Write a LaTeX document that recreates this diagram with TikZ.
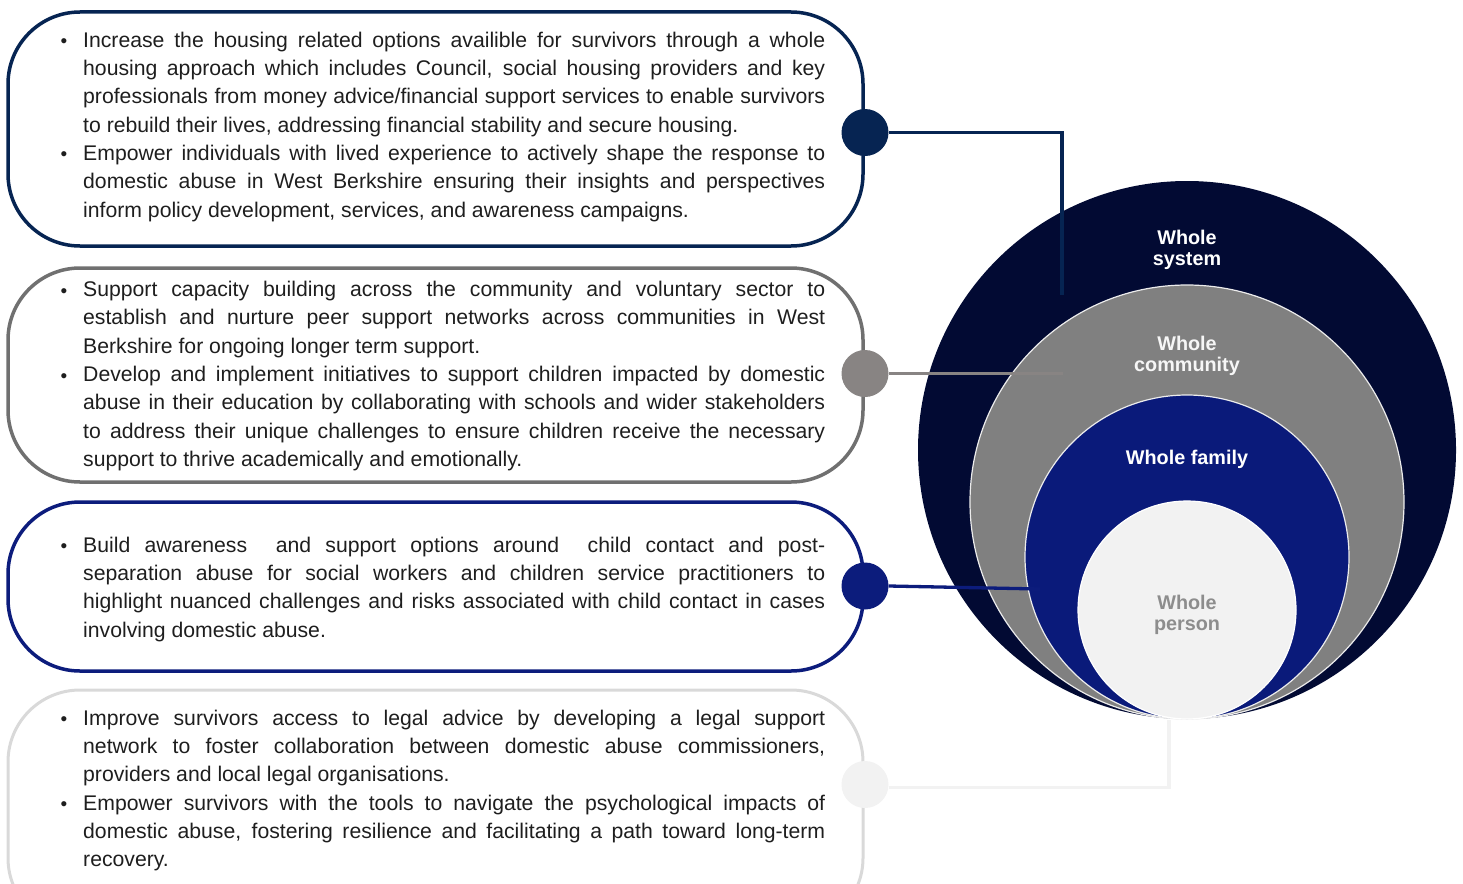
\documentclass[tikz,border=0pt]{standalone}
\usepackage{fontspec}
\setmainfont{Liberation Sans}
\definecolor{navyA}{HTML}{062452}
\definecolor{grayB}{HTML}{707070}
\definecolor{grayDot}{HTML}{888483}
\definecolor{blueC}{HTML}{0C1C7C}
\definecolor{lightD}{HTML}{D9D9D9}
\definecolor{lightDot}{HTML}{F2F2F2}
\definecolor{sysc}{HTML}{020A33}
\definecolor{comc}{HTML}{808080}
\definecolor{famc}{HTML}{0A1A7A}
\definecolor{perc}{HTML}{F2F2F2}
\definecolor{txt}{HTML}{1E1E1E}
\newcommand{\bodyset}{\fontsize{21.2}{28.33}\selectfont\tolerance=10000\relax\hyphenpenalty=10000\relax\exhyphenpenalty=10000\relax}
\newcommand{\bitem}[1]{\hangindent=23pt\relax\hangafter=1\relax\noindent\makebox[23pt][l]{\hspace{0.5pt}\raisebox{-0.5pt}{\fontsize{19}{19}\selectfont •}}\strut#1\par}
\tikzset{
  box/.style={rectangle, rounded corners=72pt, line width=3.5pt, fill=none, inner sep=0pt},
  dot/.style={circle, minimum size=47pt, inner sep=0pt},
  conn/.style={line width=3.3pt},
  txtbox/.style={anchor=north west, inner sep=0pt, text width=765pt, align=justify, text=txt, font=\bodyset},
  ring/.style={circle, inner sep=0pt},
  lab/.style={font=\fontsize{19.8}{21}\selectfont\bfseries, align=center, inner sep=0pt}
}
\begin{document}
\begin{tikzpicture}[x=1pt,y=-1pt]
\useasboundingbox (0,0) rectangle (1463,883);
\clip (0,0) rectangle (1463,883);
% concentric circles
\node[ring, fill=sysc, minimum size=538pt] (sys) at (1187,450) {};
\node[ring, fill=comc, draw=white!85!gray, line width=1.2pt, minimum size=434pt] (com) at (1187,502) {};
\node[ring, fill=famc, draw=white!85!gray, line width=1.2pt, minimum size=324pt] (fam) at (1187,557) {};
\node[ring, fill=perc, draw=white, line width=1.2pt, minimum size=218pt] (per) at (1187,610) {};
\node[lab, text=white] (lsys) at (1187,250) {Whole\\system};
\node[lab, text=white!93!gray] (lcom) at (1187,356) {Whole\\community};
\node[lab, text=white] (lfam) at (1187,459) {Whole family};
\node[lab, text=comc!90!white] (lper) at (1187,615) {Whole\\person};
% boxes
\node[box, draw=navyA, minimum width=855pt, minimum height=234pt] (b1) at (435.5,129) {};
\node[box, draw=grayB, minimum width=855pt, minimum height=214pt] (b2) at (435.5,375) {};
\node[box, draw=blueC, minimum width=855pt, minimum height=169pt] (b3) at (435.5,586.5) {};
\node[box, draw=lightD, line width=3pt, minimum width=855pt, minimum height=240pt] (b4) at (435.5,810) {};
% texts
\node[txtbox] (t1) at (60,27) {%
\bitem{Increase the housing related options availible for survivors through a whole\linebreak housing approach which includes Council, social housing providers and key\linebreak professionals from money advice/financial support services to enable survivors\linebreak to rebuild their lives, addressing financial stability and secure housing.}%
\bitem{Empower individuals with lived experience to actively shape the response to\linebreak domestic abuse in West Berkshire ensuring their insights and perspectives\linebreak inform policy development, services, and awareness campaigns.}};
\node[txtbox] (t2) at (60,276.5) {%
\bitem{Support capacity building across the community and voluntary sector to\linebreak establish and nurture peer support networks across communities in West\linebreak Berkshire for ongoing longer term support.}%
\bitem{Develop and implement initiatives to support children impacted by domestic\linebreak abuse in their education by collaborating with schools and wider stakeholders\linebreak to address their unique challenges to ensure children receive the necessary\linebreak support to thrive academically and emotionally.}};
\node[txtbox] (t3) at (60,532.2) {%
\bitem{Build awareness \ and support options around \ child contact and post-\linebreak separation abuse for social workers and children service practitioners to\linebreak highlight nuanced challenges and risks associated with child contact in cases\linebreak involving domestic abuse.}};
\node[txtbox] (t4) at (60,705.2) {%
\bitem{Improve survivors access to legal advice by developing a legal support\linebreak network to foster collaboration between domestic abuse commissioners,\linebreak providers and local legal organisations.}%
\bitem{Empower survivors with the tools to navigate the psychological impacts of\linebreak domestic abuse, fostering resilience and facilitating a path toward long-term\linebreak recovery.}};
% dots
\node[dot, fill=navyA] (d1) at (865,132.5) {};
\node[dot, fill=grayDot] (d2) at (865,373.5) {};
\node[dot, fill=blueC] (d3) at (865,586) {};
\node[dot, fill=lightDot] (d4) at (865,784.5) {};
% connectors
\coordinate (e1) at (1062,295);
\coordinate (e2) at (1063,373.5);
\coordinate (e3) at (1040,589);
\coordinate (e4) at (1169,720);
\draw[conn, draw=navyA] (d1.east) -| (e1);
\draw[conn, draw=grayDot] (d2.east) -- (e2);
\draw[conn, draw=blueC] (d3.east) -- (e3);
\draw[conn, draw=lightDot] ([yshift=-3pt]d4.east) -| (e4);
\end{tikzpicture}
\end{document}
